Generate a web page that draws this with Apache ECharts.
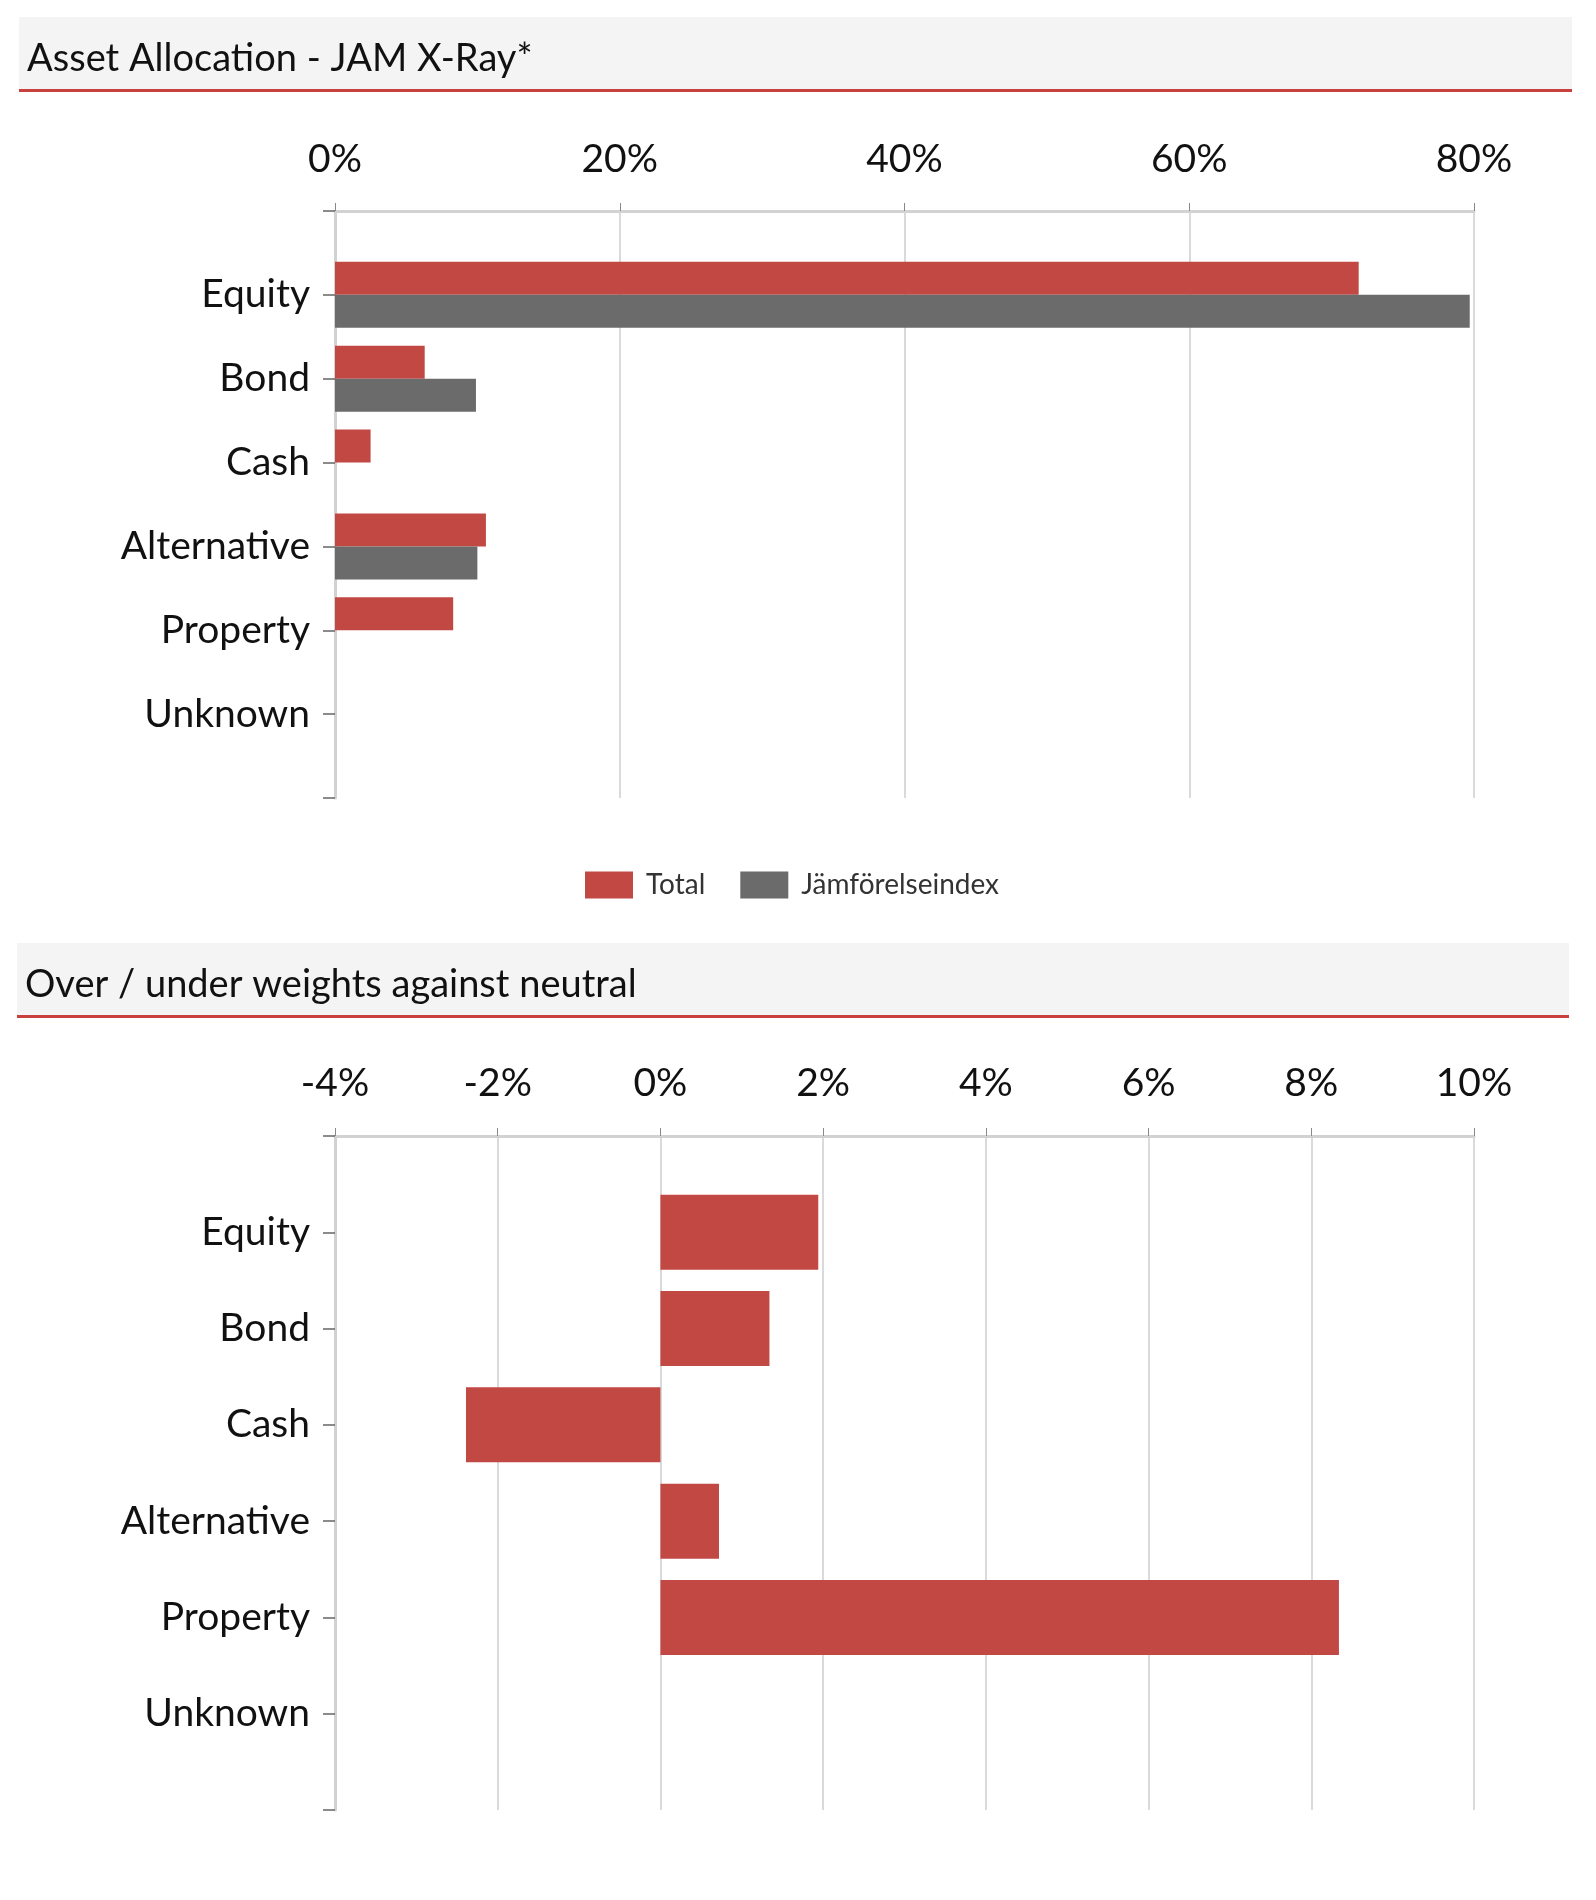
<!DOCTYPE html>
<html>
<head>
<meta charset="utf-8">
<script src="https://cdn.jsdelivr.net/npm/echarts@6/dist/echarts.min.js"></script>
<style>
  html, body { margin: 0; padding: 0; background: #fff; }
  #chart { width: 1596px; height: 1900px; }
</style>
</head>
<body>
<div id="chart"></div>
<script>
// categories (empty slot at each end so the labels sit on the ticks)
var assetClasses = ['Equity', 'Bond', 'Cash', 'Alternative', 'Property', 'Unknown'];
var totalAlloc = [71.9, 6.3, 2.5, 10.6, 8.3, 0];
var indexAlloc = [79.7, 9.9, 0, 10.0, 0, 0];
var overUnder = [1.94, 1.34, -2.39, 0.72, 8.34, 0];

var RED = '#c24844';
var GREY = '#6b6b6b';
var FONT = 'Lato';

var cats = [''].concat(assetClasses, ['']);
function pad(arr) { return [null].concat(arr, [null]); }

var dom = document.getElementById('chart');
var myChart = echarts.init(dom, null, { renderer: 'canvas' });

function header(x, y, w, text) {
  return [
    { type: 'rect', shape: { x: x, y: y, width: w, height: 73 }, style: { fill: '#f4f4f4' } },
    { type: 'rect', shape: { x: x, y: y + 72, width: w, height: 3 }, style: { fill: '#c8413f' } },
    { type: 'text', x: x + 8, y: y + 42, style: { text: text, font: '38px ' + FONT, fill: '#111', textVerticalAlign: 'middle' } }
  ];
}

function valueAxis(gridIndex, min, max, interval, margin) {
  return {
    type: 'value', gridIndex: gridIndex, position: 'top',
    min: min, max: max, interval: interval,
    axisLine: { show: true, lineStyle: { color: '#d2d2d2', width: 3 } },
    axisTick: { show: true, length: 8, lineStyle: { color: '#888', width: 1 } },
    splitLine: { show: true, lineStyle: { color: '#dadada', width: 2 } },
    axisLabel: { formatter: '{value}%', fontFamily: FONT, fontSize: 39, color: '#111', margin: margin }
  };
}

function catAxis(gridIndex) {
  return {
    type: 'category', gridIndex: gridIndex, inverse: true, boundaryGap: false,
    data: cats,
    axisLine: { show: true, onZero: false, lineStyle: { color: '#d2d2d2', width: 3 } },
    axisTick: { show: true, length: 12, lineStyle: { color: '#666', width: 1.5 } },
    splitLine: { show: false },
    axisLabel: { fontFamily: FONT, fontSize: 39, color: '#111', margin: 25 }
  };
}

var option = {
  backgroundColor: '#fff',
  animation: false,
  graphic: header(19, 17, 1553, 'Asset Allocation - JAM X-Ray*').concat(header(17, 943, 1552, 'Over / under weights against neutral')),
  legend: {
    data: ['Total', 'Jämförelseindex'],
    left: 580, top: 866,
    itemWidth: 48, itemHeight: 27, itemGap: 35,
    icon: 'rect',
    textStyle: { fontFamily: FONT, fontSize: 28, color: '#333', padding: [0, 0, 0, 8] }
  },
  grid: [
    { left: 335, top: 211, width: 1139, height: 587 },
    { left: 335, top: 1136, width: 1139, height: 674 }
  ],
  xAxis: [
    valueAxis(0, 0, 80, 20, 32),
    valueAxis(1, -4, 10, 2, 33)
  ],
  yAxis: [catAxis(0), catAxis(1)],
  series: [
    {
      name: 'Total', type: 'bar', xAxisIndex: 0, yAxisIndex: 0,
      data: pad(totalAlloc), barWidth: 33, barGap: '0%',
      itemStyle: { color: RED }
    },
    {
      name: 'Jämförelseindex', type: 'bar', xAxisIndex: 0, yAxisIndex: 0,
      data: pad(indexAlloc), barWidth: 33, barGap: '0%',
      itemStyle: { color: GREY }
    },
    {
      name: 'Over/Under', type: 'bar', xAxisIndex: 1, yAxisIndex: 1,
      data: pad(overUnder), barWidth: 75,
      itemStyle: { color: RED }
    }
  ]
};

myChart.setOption(option);
window.addEventListener('resize', myChart.resize);
</script>
</body>
</html>
